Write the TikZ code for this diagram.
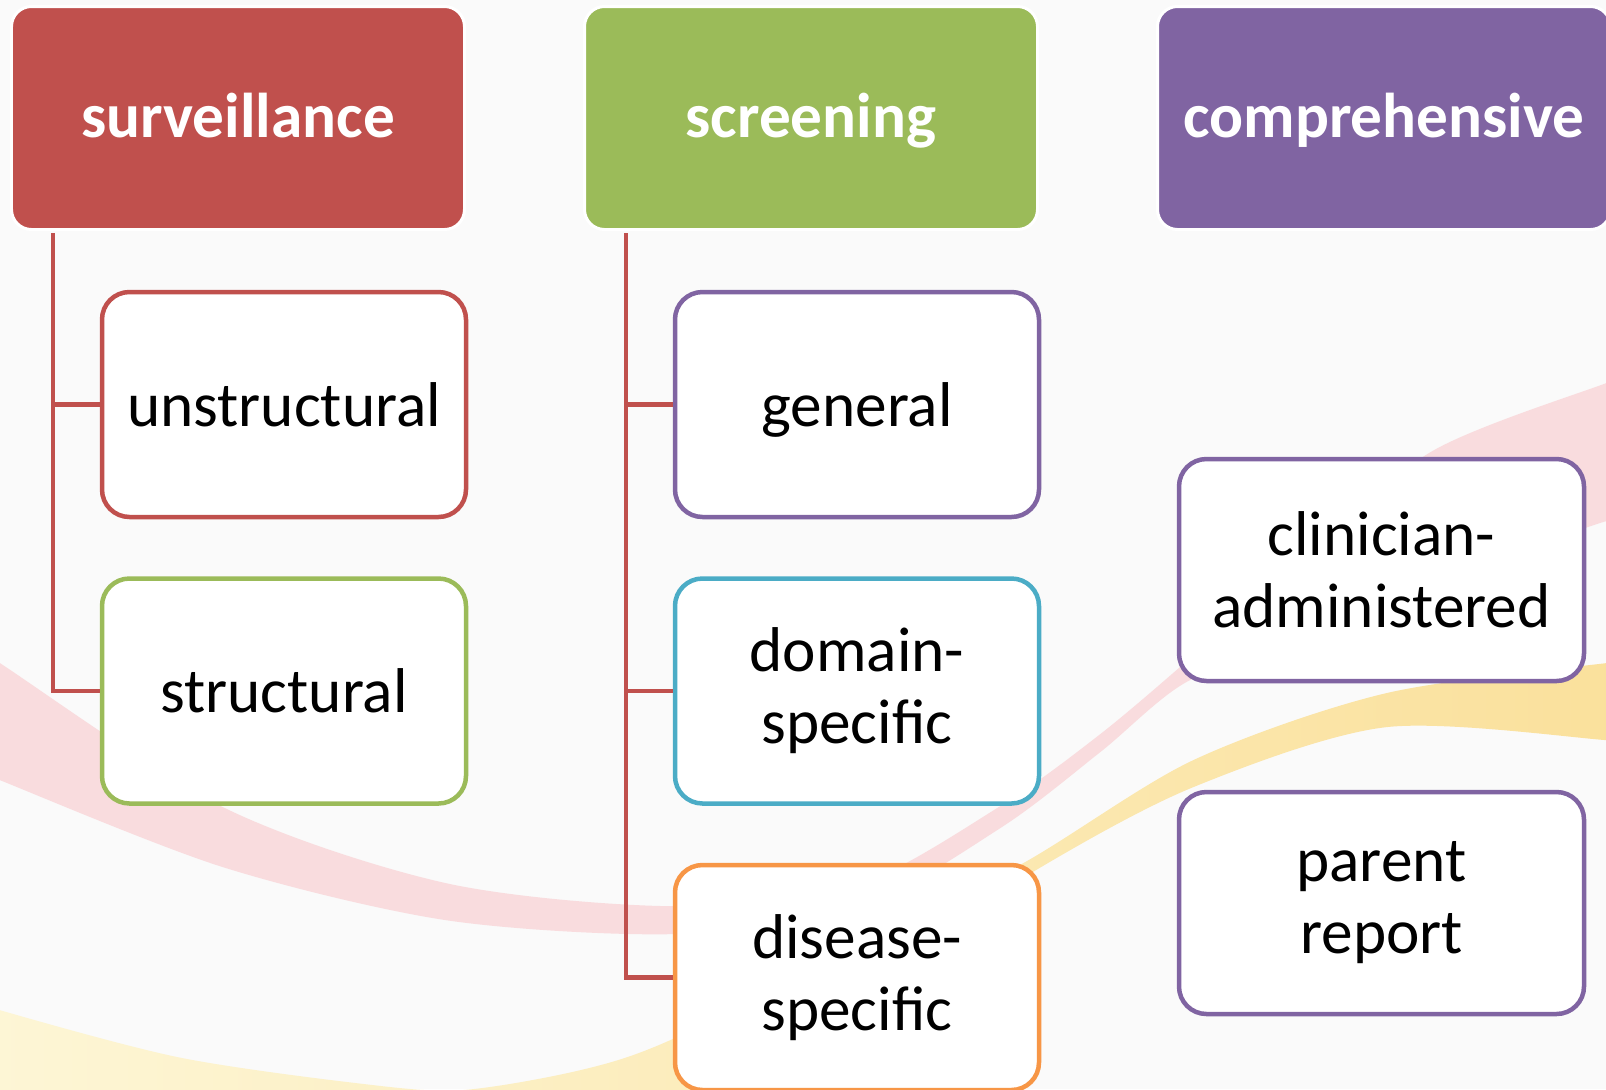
\documentclass[tikz,border=0pt]{standalone}
\usepackage{fontspec}
\setmainfont{Carlito}

\definecolor{sred}{HTML}{C0504D}
\definecolor{sgreen}{HTML}{9BBB59}
\definecolor{spurple}{HTML}{8064A2}
\definecolor{sblue}{HTML}{4BACC6}
\definecolor{sorange}{HTML}{F79646}
\definecolor{bgcol}{HTML}{FAFAFA}
\definecolor{pinkband}{HTML}{F9DCDE}
\definecolor{yellowfaint}{HTML}{FDF6D6}
\definecolor{yellowband}{HTML}{FAE09B}

\begin{document}
\begin{tikzpicture}[node distance=11.46cm,
  head/.style={draw=white, line width=0.06cm, rounded corners=0.4cm, minimum width=9.06cm, minimum height=4.46cm, text=white, font=\bfseries\fontsize{36pt}{41pt}\selectfont, text height=0.88cm, text depth=0.1cm},
  block/.style={draw, fill=white, line width=0.09cm, rounded corners=0.55cm, minimum width=7.28cm, minimum height=4.5cm, align=center, font=\fontsize{36pt}{41pt}\selectfont},
  link/.style={draw=sred, line width=0.09cm}]

  % Page and background swooshes
  \path[use as bounding box] (0,0) rectangle (32.12,-21.78);
  \clip (0,0) rectangle (32.12,-21.78);
  \fill[bgcol] (0,0) rectangle (32.12,-21.78);
  \begin{scope}[x=0.02cm, y=-0.02cm]
    \shade[left color=yellowfaint, right color=yellowband]
      plot[smooth] coordinates {(-20,1000) (0,1010) (178,1057) (357,1083) (460,1090) (580,1070) (670,1040) (850,950) (1023,863) (1193,760) (1386,693) (1606,663) (1640,662)}
      -- plot[smooth] coordinates {(1640,745) (1606,740) (1386,727) (1193,787) (1039,868) (900,960) (760,1060) (680,1130)}
      -- (-20,1130) -- cycle;
    \fill[pinkband]
      plot[smooth] coordinates {(-20,650) (0,663) (223,807) (446,883) (670,906) (850,888) (1000,806) (1100,734) (1190,658) (1300,560) (1432,451) (1606,383) (1640,372)}
      -- plot[smooth] coordinates {(1640,520) (1606,521) (1500,560) (1300,640) (1186,682) (1100,752) (1000,828) (850,912) (670,934) (446,920) (223,867) (0,780) (-20,770)}
      -- cycle;
  \end{scope}

  % Headers
  \node[head, fill=sred] (S) at (4.76,-2.36) {surveillance};
  \node[head, fill=sgreen, right of=S] (R) {screening};
  \node[head, fill=spurple, right of=R] (C) {comprehensive};

  % Surveillance column
  \node[block, draw=sred, below of=S, node distance=5.73cm, xshift=0.92cm, text depth=0pt] (U) {unstructural};
  \node[block, draw=sgreen, below of=U, node distance=5.73cm, text depth=0pt] (T) {structural};

  % Screening column
  \node[block, draw=spurple, below of=R, node distance=5.73cm, xshift=0.92cm, text depth=0pt] (G) {general};
  \node[block, draw=sblue, below of=G, node distance=5.73cm] (D) {domain-\\specific};
  \node[block, draw=sorange, below of=D, node distance=5.73cm] (Z) {disease-\\specific};

  % Comprehensive column
  \node[block, draw=spurple, minimum width=8.1cm, minimum height=4.44cm, below of=C, node distance=9.04cm, xshift=-0.05cm] (K) {clinician-\\administered};
  \node[block, draw=spurple, minimum width=8.1cm, minimum height=4.44cm, below of=K, node distance=6.66cm] (P) {parent\\report};

  % Tree lines
  \draw[link] ([xshift=0.86cm, yshift=-0.04cm]S.south west) |- (U.west);
  \draw[link] ([xshift=0.86cm, yshift=-0.04cm]S.south west) |- (T.west);
  \draw[link] ([xshift=0.86cm, yshift=-0.04cm]R.south west) |- (G.west);
  \draw[link] ([xshift=0.86cm, yshift=-0.04cm]R.south west) |- (D.west);
  \draw[link] ([xshift=0.86cm, yshift=-0.04cm]R.south west) |- (Z.west);

\end{tikzpicture}
\end{document}
